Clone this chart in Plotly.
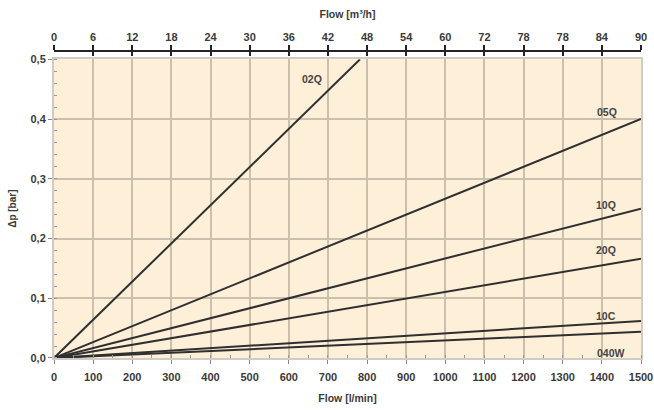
import plotly.graph_objects as go

# ---- data ----
series_names = ["02Q", "05Q", "10Q", "20Q", "10C", "040W"]
flow_start = [0, 0, 0, 0, 0, 0]
flow_end = [782, 1500, 1500, 1500, 1500, 1500]          # l/min
dp_start = [0, 0, 0, 0, 0, 0]
dp_end = [0.5, 0.40, 0.25, 0.166, 0.062, 0.044]        # bar
label_flow = [660, 1412, 1410, 1410, 1410, 1423]
label_dp = [0.467, 0.412, 0.256, 0.181, 0.070, 0.009]

lmin_ticks = list(range(0, 1501, 100))
m3h_tick_labels = ["0", "6", "12", "18", "24", "30", "36", "42", "48", "54",
                   "60", "72", "78", "78", "84", "90"]
dp_ticks = [0.0, 0.1, 0.2, 0.3, 0.4, 0.5]

FONT = "Liberation Sans, Arial, sans-serif"
TXT = "#3a3a3a"
GRID = "#cbbfae"

fig = go.Figure()
for i, name in enumerate(series_names):
    fig.add_trace(go.Scatter(
        x=[flow_start[i], flow_end[i]], y=[dp_start[i], dp_end[i]],
        mode="lines", name=name, line=dict(color="#2f2f2f", width=2),
        showlegend=False, hoverinfo="skip", cliponaxis=True))
    fig.add_annotation(x=label_flow[i], y=label_dp[i], text=name, showarrow=False,
                       font=dict(family=FONT, size=10.5, color="#444", weight="bold"))

# invisible traces for top axes
fig.add_trace(go.Scatter(x=[0, 1500], y=[0, 0], xaxis="x2", mode="lines",
                         line=dict(width=0), showlegend=False, hoverinfo="skip"))
fig.add_trace(go.Scatter(x=[0, 1500], y=[0, 0], xaxis="x3", mode="lines",
                         line=dict(width=0), showlegend=False, hoverinfo="skip"))

tickfont = dict(family=FONT, size=11, color=TXT, weight="bold")

fig.update_layout(
    width=654, height=410,
    margin=dict(l=54, r=13, t=51, b=52),
    paper_bgcolor="white",
    plot_bgcolor="#fdefd8",
    separators=",.",
    xaxis=dict(range=[0, 1500], tickvals=lmin_ticks, tickfont=tickfont, automargin=False,
               showgrid=True, gridcolor=GRID, gridwidth=2,
               showline=True, linecolor="#d0cbc4", linewidth=2, mirror=True,
               ticks="outside", ticklen=4, tickcolor="#888", ticklabelstandoff=4,
               minor=dict(ticks="inside", dtick=50, ticklen=3, tickcolor="#999", showgrid=False),
               zeroline=False, fixedrange=True,
               title=dict(text="Flow [l/min]", font=dict(family=FONT, size=10.5, color=TXT, weight="bold"),
                          standoff=12)),
    yaxis=dict(range=[0, 0.5], domain=[0, 0.973], tickvals=dp_ticks, tickformat=".1f",
               tickfont=tickfont, automargin=False,
               showgrid=True, gridcolor=GRID, gridwidth=2,
               showline=True, linecolor="#d0cbc4", linewidth=2, mirror=True,
               ticks="outside", ticklen=4, tickcolor="#888",
               minor=dict(ticks="inside", dtick=0.02, ticklen=3, tickcolor="#999", showgrid=False),
               zeroline=False, fixedrange=True,
               title=dict(text="Δp [bar]", font=dict(family=FONT, size=10, color=TXT, weight="bold"),
                          standoff=12)),
    xaxis2=dict(range=[0, 1500], overlaying="x", side="top", anchor="free", position=1,
                tickvals=lmin_ticks, ticktext=m3h_tick_labels, tickfont=tickfont, automargin=False,
                showgrid=False, zeroline=False, showline=True, linecolor="#222", linewidth=1.5,
                ticks="outside", ticklen=5, tickcolor="#222", tickwidth=1.5,
                title=dict(text="Flow [m³/h]", font=dict(family=FONT, size=10.5, color=TXT, weight="bold"),
                           standoff=9)),
    xaxis3=dict(range=[0, 1500], overlaying="x", side="top", anchor="free", position=1,
                tickvals=lmin_ticks, showticklabels=False, automargin=False,
                showgrid=False, zeroline=False, showline=False,
                ticks="inside", ticklen=4, tickcolor="#222", tickwidth=1.5),
)

fig.write_html("out.html", post_script="document.body.style.margin='0';",
               config={"displayModeBar": False})
